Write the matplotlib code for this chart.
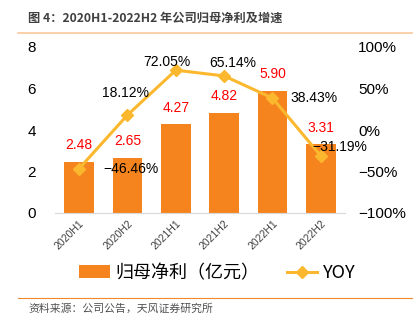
import matplotlib
matplotlib.use('Agg')
import matplotlib.pyplot as plt
from matplotlib.lines import Line2D

plt.rcParams['font.family'] = ['Liberation Sans', 'Noto Sans CJK SC']

periods = ['2020H1', '2020H2', '2021H1', '2021H2', '2022H1', '2022H2']
profit = [2.48, 2.65, 4.27, 4.82, 5.90, 3.31]
yoy = [-46.46, 18.12, 72.05, 65.14, 38.43, -31.19]

# label offsets for yoy annotations (points)
yoy_offsets = [(37, 0), (-1.5, 16), (-6.5, 6), (6.5, 9.5), (29.5, 0), (13.5, 6.5)]

bar_color = '#F5841F'
line_color = '#FBB82E'

fig = plt.figure(figsize=(4.18, 3.29), dpi=100)

# header / footer
fig.text(28 / 418, 1 - 18 / 329, '图 4：2020H1-2022H2 年公司归母净利及增速',
         fontsize=8.8, fontweight='bold', color='#404040', va='center',
         family=['Noto Sans CJK SC', 'DejaVu Sans'])
fig.add_artist(Line2D([18 / 418, 412 / 418], [1 - 33 / 329] * 2,
                      color='#F9C89B', lw=1.2))
fig.add_artist(Line2D([18 / 418, 412 / 418], [1 - 298 / 329] * 2,
                      color='#F08A2C', lw=0.8))
fig.text(28 / 418, 1 - 309 / 329, '资料来源：公司公告，天风证券研究所',
         fontsize=7.8, color='#505050', va='center',
         family=['Noto Sans CJK SC', 'DejaVu Sans'])

ax = fig.add_axes([55 / 418, 1 - 213 / 329, 290 / 418, 166 / 329])
x = range(len(periods))
ax.bar(x, profit, width=0.62, color=bar_color, zorder=2,
       label='归母净利（亿元）')
ax.set_xlim(-0.5, len(periods) - 0.5)
ax.set_ylim(0, 8)
ax.set_yticks([0, 2, 4, 6, 8])
ax.set_xticks(list(x))
ax.set_xticklabels(periods, rotation=45, ha='right', rotation_mode='anchor',
                   fontsize=7.5, color='#404040')
for s in ['top', 'right', 'left']:
    ax.spines[s].set_visible(False)
ax.spines['bottom'].set_color('#D9D9D9')
ax.tick_params(axis='both', length=0)
ax.tick_params(axis='y', labelsize=11, pad=13.5)
ax.tick_params(axis='x', pad=4)

for i, v in enumerate(profit):
    ax.annotate(f'{v:.2f}', (i, v), xytext=(0, 12), textcoords='offset points',
                ha='center', va='center', color='#FF0000', fontsize=10)

ax2 = ax.twinx()
ax2.plot(list(x), yoy, color=line_color, lw=2.2, marker='D', markersize=6,
         zorder=3, label='YOY')
ax2.set_ylim(-100, 100)
ax2.set_yticks([-100, -50, 0, 50, 100])
ax2.set_yticklabels(['\u2212100%', '\u221250%', '0%', '50%', '100%'])
for s in ['top', 'right', 'left', 'bottom']:
    ax2.spines[s].set_visible(False)
ax2.tick_params(axis='y', length=0, labelsize=11, pad=9.5)

for i, v in enumerate(yoy):
    dx, dy = yoy_offsets[i]
    ax2.annotate(f'{v:.2f}%'.replace('-', '\u2212'), (i, v), xytext=(dx, dy),
                 textcoords='offset points', ha='center', va='center',
                 color='black', fontsize=10, zorder=5)

h1, l1 = ax.get_legend_handles_labels()
h2, l2 = ax2.get_legend_handles_labels()
fig.legend(h1 + h2, l1 + l2, loc='center', bbox_to_anchor=(0.52, 1 - 273 / 329),
           ncol=2, frameon=False, fontsize=13, handlelength=1.7,
           columnspacing=1.5, handletextpad=0.3,
           prop={'family': ['Noto Sans CJK SC', 'Liberation Sans'], 'size': 13})

fig.savefig('out.png', dpi=100)
